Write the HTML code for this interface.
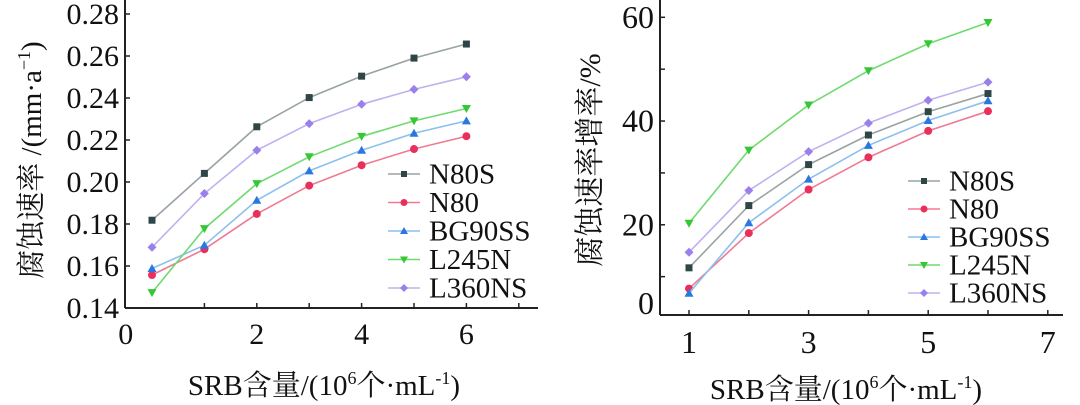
<!DOCTYPE html>
<html><head><meta charset="utf-8">
<style>
html,body{margin:0;padding:0;background:#fff;}
svg{display:block;}
svg text{font-family:"Liberation Serif","Times New Roman","DejaVu Serif","Noto Serif CJK SC",serif;fill:#111;}
</style></head>
<body>
<svg id="chart" width="1080" height="405" viewBox="0 0 1080 405" xmlns="http://www.w3.org/2000/svg">
  <g id="left"></g>
  <g id="right"></g>
</svg>
<script>
const seriesNames = ["N80S","N80","BG90SS","L245N","L360NS"];
const leftX = [0,1,2,3,4,5,6];
const leftN80S = [0.1818,0.2041,0.2263,0.2402,0.2504,0.2590,0.2657];
const leftN80 = [0.1557,0.1680,0.1848,0.1983,0.2080,0.2157,0.2218];
const leftBG90SS = [0.1588,0.1699,0.1913,0.2053,0.2151,0.2232,0.2291];
const leftL245N = [0.1473,0.1778,0.1992,0.2120,0.2217,0.2291,0.2350];
const leftL360NS = [0.1689,0.1945,0.2151,0.2278,0.2370,0.2441,0.2501];
const leftYTicks = [0.14,0.16,0.18,0.20,0.22,0.24,0.26,0.28];
const leftXTicks = ["0","2","4","6"];
const leftXTickVals = [-0.5,2,4,6];

const rightX = [1,2,3,4,5,6];
const rightN80S = [11.7,23.7,31.6,37.3,41.8,45.3];
const rightN80 = [7.7,18.4,26.8,33.0,38.1,41.9];
const rightBG90SS = [6.8,20.4,28.8,35.3,40.1,43.9];
const rightL245N = [20.3,34.4,43.1,49.7,54.9,59.0];
const rightL360NS = [14.7,26.6,34.1,39.6,44.0,47.5];
const rightYTicks = [60,50,40,30,20,10];
const rightYLabels = ["60","40","20"];
const rightYLabelVals = [60,40,20];
const rightXTicks = ["1","3","5","7"];
const rightXTickVals = [1,3,5,7];

const FONT='"Liberation Serif","Times New Roman","DejaVu Serif","Noto Serif CJK SC",serif';
const colors = {N80S:["#2f4646","#9aa3a3"],N80:["#e8305a","#f07a93"],BG90SS:["#2878e0","#8cc0ee"],L245N:["#35c835","#6edb6e"],L360NS:["#9a80ea","#c0b0f0"]};
const shapes = {N80S:"square",N80:"circle",BG90SS:"up",L245N:"down",L360NS:"diamond"};
const NS="http://www.w3.org/2000/svg";
function mk(tag,attrs,parent){const e=document.createElementNS(NS,tag);for(const k in attrs)e.setAttribute(k,attrs[k]);if(tag==="text")e.setAttribute("font-family",FONT);parent.appendChild(e);return e;}
function marker(g,shape,cx,cy,col,s){
  let e;
  if(shape==="square") e=mk("rect",{x:cx-s,y:cy-s,width:2*s,height:2*s,fill:col},g);
  else if(shape==="circle") e=mk("circle",{cx:cx,cy:cy,r:s+0.5,fill:col},g);
  else if(shape==="up") e=mk("polygon",{points:`${cx},${cy-s-1} ${cx-s-1},${cy+s} ${cx+s+1},${cy+s}`,fill:col},g);
  else if(shape==="down") e=mk("polygon",{points:`${cx},${cy+s+1} ${cx-s-1},${cy-s} ${cx+s+1},${cy-s}`,fill:col},g);
  else e=mk("polygon",{points:`${cx},${cy-s-1} ${cx+s+1},${cy} ${cx},${cy+s+1} ${cx-s-1},${cy}`,fill:col},g);
  return e;
}
function drawChart(g,cfg){
  const {xs,data,xScale,yScale,axisX0,axisX1,axisY0,axisY1}=cfg;
  mk("line",{x1:axisX0,y1:axisY0,x2:axisX0,y2:axisY1,stroke:"#222","stroke-width":2},g);
  mk("line",{x1:axisX0,y1:axisY1,x2:axisX1,y2:axisY1,stroke:"#222","stroke-width":2},g);
  cfg.yTickVals.forEach(v=>{const t=mk("line",{x1:axisX0,y1:yScale(v),x2:axisX0+5,y2:yScale(v),stroke:"#222","stroke-width":1.5},g);
    
    });
  cfg.yLabels.forEach((l,i)=>{const t=mk("text",{x:axisX0-6,y:cfg.yLabelY(cfg.yLabelVals[i])+cfg.tickFont*0.33,"font-size":cfg.tickFont,"text-anchor":"end"},g);t.textContent=l;
    
    });
  cfg.xTickVals2.forEach(v=>{const t=mk("line",{x1:xScale(v),y1:axisY1,x2:xScale(v),y2:axisY1-5,stroke:"#222","stroke-width":1.5},g);
    
    });
  cfg.xLabels.forEach((l,i)=>{const t=mk("text",{x:xScale(cfg.xLabelVals[i]),y:axisY1+cfg.xLabelDy,"font-size":cfg.tickFont,"text-anchor":"middle"},g);t.textContent=l;
    
    });
  seriesNames.forEach((n,si)=>{
    const vals=data[si];const [mc,lc]=colors[n];
    const sg=mk("g",{},g);
    
    
    const pts=vals.map((v,i)=>xScale(xs[i])+","+yScale(v)).join(" ");
    const pl=mk("polyline",{points:pts,fill:"none",stroke:lc,"stroke-width":1.6},sg);
    
    
    vals.forEach((v,i)=>{const m=marker(sg,shapes[n],xScale(xs[i]),yScale(v),mc,3.5);
      
      });
    const ly=cfg.legY0+si*cfg.legDy;
    const lg=mk("g",{},g);
    
    
    mk("line",{x1:cfg.legX,y1:ly,x2:cfg.legX+32,y2:ly,stroke:lc,"stroke-width":1.6},lg);
    marker(lg,shapes[n],cfg.legX+16,ly,mc,3);
    const t=mk("text",{x:cfg.legX+41,y:ly+cfg.legFont*0.33,"font-size":cfg.legFont},lg);t.textContent=n;
  });
}
// left
const L=document.getElementById("left");
const lx=v=>152+52.4*v, ly=v=>14+(0.28-v)/0.02*42;
drawChart(L,{xs:leftX,data:[leftN80S,leftN80,leftBG90SS,leftL245N,leftL360NS],xScale:lx,yScale:ly,
  axisX0:125,axisX1:538,axisY0:0,axisY1:308,yTickVals:leftYTicks,yLabels:leftYTicks.map(v=>v.toFixed(2)),yLabelVals:leftYTicks,yLabelY:ly,
  xTickVals2:[1,2,3,4,5,6,7],xLabels:leftXTicks,xLabelVals:leftXTickVals,xLabelDy:36,tickFont:30,legX:388,legY0:174,legDy:28.5,legFont:29});
let t=mk("text",{x:0,y:0,"font-size":29,"text-anchor":"middle",transform:"translate(41,160) rotate(-90)"},L);
t.innerHTML='腐蚀速率 /(mm·a<tspan dy="-11" font-size="18">−1</tspan><tspan dy="11">)</tspan>';

t=mk("text",{x:324,y:395,"font-size":29,"text-anchor":"middle"},L);
t.innerHTML='SRB含量/(10<tspan dy="-11" font-size="18">6</tspan><tspan dy="11">个·mL</tspan><tspan dy="-11" font-size="18">-1</tspan><tspan dy="11">)</tspan>';

// right
const R=document.getElementById("right");
const rx=v=>689+59.8*(v-1), ry=v=>17.3+(60-v)*5.187;
drawChart(R,{xs:rightX,data:[rightN80S,rightN80,rightBG90SS,rightL245N,rightL360NS],xScale:rx,yScale:ry,
  axisX0:660,axisX1:1063,axisY0:0,axisY1:315,yTickVals:rightYTicks,yLabels:rightYLabels,yLabelVals:rightYLabelVals,yLabelY:ry,
  xTickVals2:[1,2,3,4,5,6,7],xLabels:rightXTicks,xLabelVals:rightXTickVals,xLabelDy:38,tickFont:32,legX:908,legY0:181,legDy:28,legFont:29});
t=mk("text",{x:654,y:314,"font-size":32,"text-anchor":"end"},R);t.textContent="0";

t=mk("text",{x:0,y:0,"font-size":30,"text-anchor":"middle",transform:"translate(600,160) rotate(-90)"},R);
t.textContent='腐蚀速率增率/%';

t=mk("text",{x:846,y:399,"font-size":29,"text-anchor":"middle"},R);
t.innerHTML='SRB含量/(10<tspan dy="-11" font-size="18">6</tspan><tspan dy="11">个·mL</tspan><tspan dy="-11" font-size="18">-1</tspan><tspan dy="11">)</tspan>';

</script>
</body></html>
